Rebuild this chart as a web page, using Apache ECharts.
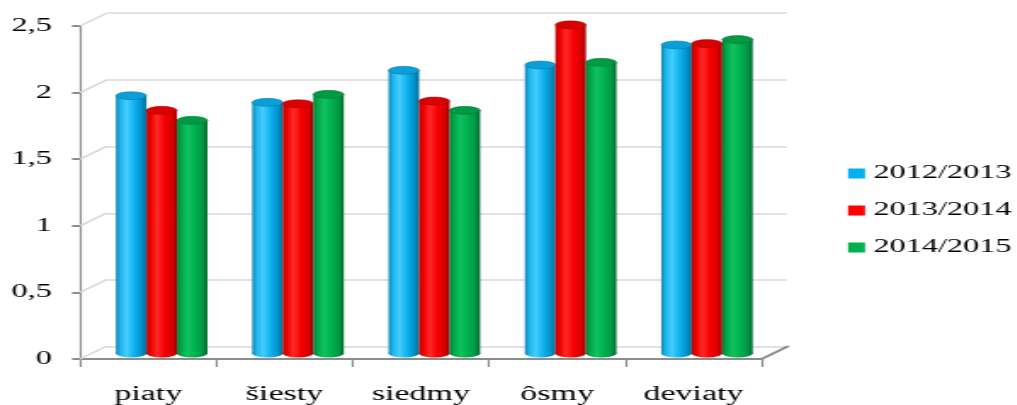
<!DOCTYPE html>
<html>
<head>
<meta charset="utf-8">
<script src="https://cdn.jsdelivr.net/npm/echarts@6/dist/echarts.min.js"></script>
<style>
html,body{margin:0;padding:0;background:#fff;overflow:hidden;}
#main{height:405px;transform-origin:0 0;}
</style>
</head>
<body>
<div id="main"></div>
<script>
const categories = ['piaty', 'šiesty', 'siedmy', 'ôsmy', 'deviaty'];
const seriesNames = ['2012/2013', '2013/2014', '2014/2015'];
const values2012 = [1.93, 1.88, 2.12, 2.16, 2.31];
const values2013 = [1.82, 1.87, 1.89, 2.46, 2.32];
const values2014 = [1.745, 1.94, 1.82, 2.18, 2.35];
const yTicks = [0, 0.5, 1, 1.5, 2, 2.5];

const SX = 1.7;
const W = 1017 / SX;
const FONT = 'Liberation Serif';
const baseColors = ['#00B0F0', '#FF0000', '#00B050'];
const bodyStops = [
  ['#0a85b6', '#1fb6ee', '#45cdfc', '#10b2ee', '#0090c8', '#066c96'],
  ['#b80000', '#f00000', '#ff2a2a', '#f60000', '#d80000', '#9a0000'],
  ['#00803a', '#00a84b', '#10c25e', '#00b050', '#009442', '#006a2e']
];
const capColors = ['#0a9fd8', '#d90000', '#009a45'];

const dx = 27 / SX, dy = -13;
const barW = 30.5 / SX;
const ry = 4;

const el = document.getElementById('main');
el.style.width = W + 'px';
el.style.transform = 'scaleX(' + SX + ')';

function grad(stops) {
  return new echarts.graphic.LinearGradient(0, 0, 1, 0, [
    {offset: 0, color: stops[0]},
    {offset: 0.15, color: stops[1]},
    {offset: 0.35, color: stops[2]},
    {offset: 0.6, color: stops[3]},
    {offset: 0.85, color: stops[4]},
    {offset: 1, color: stops[5]}
  ]);
}

function cylinder(si) {
  return function (params, api) {
    const c = api.value(0), v = api.value(1);
    const top = api.coord([c, v]);
    const base = api.coord([c, 0]);
    const cx = top[0] + (si - 1) * barW;
    const r = barW / 2;
    return {
      type: 'group',
      children: [
        {type: 'circle', shape: {cx: 0, cy: 0, r: r}, x: cx, y: base[1], scaleY: ry / r,
          style: {fill: grad(bodyStops[si])}},
        {type: 'rect', shape: {x: cx - r, y: top[1], width: barW, height: base[1] - top[1]},
          style: {fill: grad(bodyStops[si])}},
        {type: 'circle', shape: {cx: 0, cy: 0, r: r}, x: cx, y: top[1], scaleY: ry / r,
          style: {fill: capColors[si], stroke: bodyStops[si][5], lineWidth: 0.6}}
      ]
    };
  };
}

const chart = echarts.init(el);
const allValues = [values2012, values2013, values2014];

const option = {
  animation: false,
  backgroundColor: '#fff',
  legend: {
    orient: 'vertical',
    left: 848 / SX,
    top: 164,
    padding: 0,
    itemWidth: 17 / SX,
    itemHeight: 10,
    itemGap: 18,
    icon: 'rect',
    data: seriesNames,
    textStyle: {fontFamily: FONT, fontSize: 19, color: '#000'}
  },
  grid: [
    {left: 107 / SX, right: W - 787 / SX, top: 13, bottom: 405 - 347},
    {left: 93.5 / SX, right: W - 775.5 / SX, top: 19.5, bottom: 405 - 353.5},
    {left: 80 / SX, right: W - 762 / SX, top: 26, bottom: 405 - 360}
  ],
  xAxis: [
    {gridIndex: 0, type: 'category', data: categories, show: false},
    {gridIndex: 1, type: 'category', data: categories, show: false},
    {gridIndex: 2, type: 'category', data: categories,
      axisLine: {show: true, lineStyle: {color: '#8c8c8c', width: 2}},
      axisTick: {show: true, length: 8, lineStyle: {color: '#8c8c8c', width: 2 / SX}},
      axisLabel: {fontFamily: FONT, fontSize: 20, color: '#000', margin: 26, interval: 0, hideOverlap: false},
      splitLine: {show: false}}
  ],
  yAxis: [
    {gridIndex: 0, type: 'value', min: 0, max: 2.5, interval: 0.5,
      axisLine: {show: false}, axisTick: {show: false}, axisLabel: {show: false},
      splitLine: {show: true, lineStyle: {color: '#d9d9d9', width: 1.5}}},
    {gridIndex: 1, type: 'value', min: 0, max: 2.5, interval: 0.5, show: false, splitLine: {show: false}},
    {gridIndex: 2, type: 'value', min: 0, max: 2.5, interval: 0.5,
      axisLine: {show: true, lineStyle: {color: '#8c8c8c', width: 2 / SX}},
      axisTick: {show: true, length: 8 / SX, lineStyle: {color: '#8c8c8c', width: 2}},
      axisLabel: {fontFamily: FONT, fontSize: 19, color: '#000', margin: 28 / SX,
        formatter: v => String(v).replace('.', ',')},
      splitLine: {show: false}}
  ],
  series: [
    {
      type: 'custom', name: 'depth', xAxisIndex: 2, yAxisIndex: 2, silent: true, z: 1,
      data: yTicks.map(v => [0, v]),
      encode: {x: 0, y: 1},
      renderItem: function (params, api) {
        const v = api.value(1);
        const p = api.coord([0, v]);
        const cs = params.coordSys;
        const ch = [{type: 'line', shape: {x1: cs.x, y1: p[1], x2: cs.x + dx, y2: p[1] + dy},
          style: {stroke: '#d9d9d9', lineWidth: 1.5}}];
        if (v === 0) {
          ch.push({type: 'line', shape: {x1: cs.x + cs.width, y1: p[1], x2: cs.x + cs.width + dx, y2: p[1] + dy},
            style: {stroke: '#8c8c8c', lineWidth: 2}});
        }
        return {type: 'group', children: ch};
      }
    }
  ].concat(seriesNames.map((name, si) => ({
    type: 'custom',
    name: name,
    xAxisIndex: 1, yAxisIndex: 1, z: 3,
    itemStyle: {color: baseColors[si]},
    data: allValues[si].map((v, i) => [i, v]),
    encode: {x: 0, y: 1},
    renderItem: cylinder(si)
  })))
};
chart.setOption(option);
</script>
</body>
</html>
